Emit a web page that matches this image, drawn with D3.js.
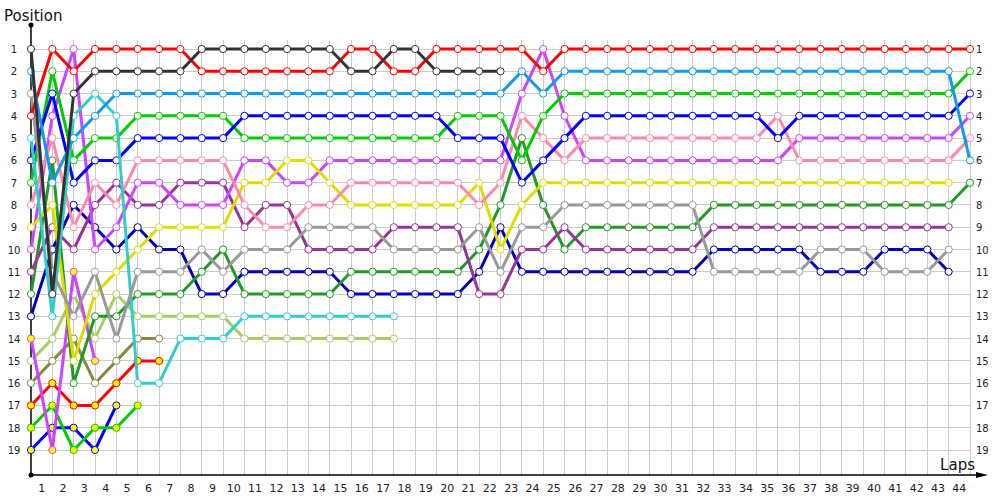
<!DOCTYPE html>
<html>
<head>
<meta charset="utf-8">
<script src="https://cdn.jsdelivr.net/npm/d3@7"></script>
<style>
  body { margin: 0; background: #fff; }
  svg { display: block; font-family: "DejaVu Sans", Verdana, sans-serif; }
</style>
</head>
<body>
<svg id="chart" width="1000" height="500"></svg>
<script>
// lap 0 is the grid, then one value per completed lap
const laps = d3.range(0, 45);
const lapLabels = d3.range(1, 45);
const positionLabels = d3.range(1, 20);

const red = [4,1,2,1,1,1,1,1,2,2, 2,2,2,2,2,1,1,2,2,1, 1,1,1,1,2,1,1,1,1,1, 1,1,1,1,1,1,1,1,1,1, 1,1,1,1,1];
const black = [1,12,3,2,2,2,2,2,1,1, 1,1,1,1,1,2,2,1,1,2, 2,2,2];
const lightBlue = [2,7,5,4,3,3,3,3,3,3, 3,3,3,3,3,3,3,3,3,3, 3,3,3,2,3,2,2,2,2,2, 2,2,2,2,2,2,2,2,2,2, 2,2,2,2,6];
const gray = [3,11,13,11,14,11,11,11,10,11, 10,10,10,9,9,9,9,10,10,10, 10,9,11,9,9,8,8,8,8,8, 8,8,11,11,11,11,11,10,10,10, 11,11,11,10];
const cyan = [5,13,4,3,4,16,16,14,14,14, 13,13,13,13,13,13,13,13];
const blue = [6,3,7,6,6,5,5,5,5,5, 4,4,4,4,4,4,4,4,4,4, 5,5,5,7,6,5,4,4,4,4, 4,4,4,4,4,5,4,4,4,4, 4,4,4,4,3];
const green = [7,2,6,5,5,4,4,4,4,4, 5,5,5,5,5,5,5,5,5,5, 4,4,4,6,4,3,3,3,3,3, 3,3,3,3,3,3,3,3,3,3, 3,3,3,3,2];
const pink = [8,5,9,7,8,6,6,6,6,6, 8,9,9,8,8,7,7,7,7,7, 7,8,7,4,5,6,5,5,5,5, 5,5,5,5,5,4,6,6,6,6, 6,6,6,6,5];
const yellow = [9,8,15,12,11,10,9,9,9,9, 7,7,6,6,7,8,8,8,8,8, 8,7,10,8,7,7,7,7,7,7, 7,7,7,7,7,7,7,7,7,7, 7,7,7,7];
const magenta = [10,4,1,10,9,7,7,8,8,8, 6,6,7,7,6,6,6,6,6,6, 6,6,6,3,1,4,6,6,6,6, 6,6,6,6,6,6,5,5,5,5, 5,5,5,5,4];
const purple = [11,9,10,8,7,8,8,7,7,7, 9,8,8,10,10,10,10,9,9,9, 9,12,12,10,10,9,10,10,10,10, 10,10,9,9,9,9,9,9,9,9, 9,9,9,9];
const darkGreen = [12,6,16,13,13,12,12,12,11,10, 12,12,12,12,12,11,11,11,11,11, 11,10,8,5,8,10,9,9,9,9, 9,9,8,8,8,8,8,8,8,8, 8,8,8,8,7];
const navy = [13,10,8,9,10,9,10,10,12,12, 11,11,11,11,11,12,12,12,12,12, 12,11,9,11,11,11,11,11,11,11, 11,11,10,10,10,10,10,11,11,11, 10,10,10,11];
const magentaB = [14,19,11,15];
const yellowGreen = [15,14,12,14,12,13,13,13,13,13, 14,14,14,14,14,14,14,14];
const olive = [16,15,14,16,15,14,14];
const redB = [17,16,17,17,16,15,15];
const greenB = [18,17,19,18,18,17];
const blueB = [19,18,18,19,17];

// drawn from the back of the grid to the front
const series = [
  { pos: blueB, color: '#0000ff', fill: '#ffff00' },
  { pos: greenB, color: '#00cc00', fill: '#ffff00' },
  { pos: redB, color: '#ff0000', fill: '#ffff00' },
  { pos: olive, color: '#888844', fill: '#fff' },
  { pos: yellowGreen, color: '#aacc66', fill: '#fff' },
  { pos: magentaB, color: '#cc44ff', fill: '#ffff00' },
  { pos: navy, color: '#0000bb', fill: '#fff' },
  { pos: darkGreen, color: '#229922', fill: '#fff' },
  { pos: purple, color: '#993399', fill: '#fff' },
  { pos: magenta, color: '#cc44ff', fill: '#fff' },
  { pos: yellow, color: '#dddd00', fill: '#fff' },
  { pos: pink, color: '#ff88aa', fill: '#fff' },
  { pos: green, color: '#00cc00', fill: '#fff' },
  { pos: blue, color: '#0000ff', fill: '#fff' },
  { pos: cyan, color: '#33cccc', fill: '#fff' },
  { pos: gray, color: '#999999', fill: '#fff' },
  { pos: red, color: '#ff0000', fill: '#fff' },
  { pos: lightBlue, color: '#1199ee', fill: '#fff' },
  { pos: black, color: '#333333', fill: '#fff' },
];

const svg = d3.select('#chart');

const x = d3.scaleLinear().domain([0, 44]).range([31, 970]);
const y = d3.scaleLinear().domain([1, 19]).range([49, 450]);
const axisY = 475;

// grid
svg.append('g').selectAll('line')
  .data(lapLabels)
  .enter()
  .append('line')
  .attr('x1', d => x(d)).attr('x2', d => x(d))
  .attr('y1', 40).attr('y2', axisY)
  .attr('stroke', '#cccccc')
  .attr('stroke-width', 1)
  .attr('shape-rendering', 'crispEdges');

svg.append('g').selectAll('line')
  .data(positionLabels)
  .enter()
  .append('line')
  .attr('x1', x(0)).attr('x2', x(44))
  .attr('y1', d => y(d)).attr('y2', d => y(d))
  .attr('stroke', '#cccccc')
  .attr('stroke-width', 1)
  .attr('shape-rendering', 'crispEdges');

// position labels on both sides
svg.append('g').selectAll('text')
  .data(positionLabels)
  .enter()
  .append('text')
  .attr('x', 14)
  .attr('y', d => y(d) + 4)
  .attr('text-anchor', 'middle')
  .style('font-size', '10px')
  .style('fill', '#222')
  .text(d => d);

svg.append('g').selectAll('text')
  .data(positionLabels)
  .enter()
  .append('text')
  .attr('x', 976)
  .attr('y', d => y(d) + 4)
  .style('font-size', '10px')
  .style('fill', '#222')
  .text(d => d);

// lap labels sit between the grid lines
svg.append('g').selectAll('text')
  .data(lapLabels)
  .enter()
  .append('text')
  .attr('x', d => (x(d - 1) + x(d)) / 2)
  .attr('y', 492)
  .attr('text-anchor', 'middle')
  .style('font-size', '11px')
  .style('fill', '#222')
  .text(d => d);

// axes
svg.append('line')
  .attr('x1', x(0)).attr('x2', x(0))
  .attr('y1', 25).attr('y2', axisY)
  .attr('stroke', '#000').attr('stroke-width', 1.5);
svg.append('line')
  .attr('x1', x(0)).attr('x2', 980)
  .attr('y1', axisY).attr('y2', axisY)
  .attr('stroke', '#000').attr('stroke-width', 1.5);
svg.append('path')
  .attr('d', `M976,${axisY - 3} L988,${axisY} L976,${axisY + 3} Z`)
  .attr('fill', '#000');
svg.append('circle').attr('cx', x(0)).attr('cy', 25).attr('r', 2.5).attr('fill', '#000');
svg.append('circle').attr('cx', x(0)).attr('cy', axisY).attr('r', 2.5).attr('fill', '#000');

svg.append('text')
  .attr('x', 4).attr('y', 21)
  .style('font-size', '15px')
  .style('fill', '#111')
  .text('Position');

svg.append('text')
  .attr('x', 975).attr('y', 470)
  .attr('text-anchor', 'end')
  .style('font-size', '15px')
  .style('fill', '#111')
  .text('Laps');

// one line + markers per driver
const line = d3.line()
  .x((d, i) => x(laps[i]))
  .y(d => y(d));

const drivers = svg.append('g').selectAll('g')
  .data(series)
  .enter()
  .append('g');

drivers.append('path')
  .attr('d', s => line(s.pos))
  .attr('fill', 'none')
  .attr('stroke', s => s.color)
  .attr('stroke-width', 3)
  .attr('stroke-linejoin', 'round');

drivers.selectAll('circle')
  .data(s => s.pos.map((p, i) => ({ lap: laps[i], p: p, s: s })))
  .enter()
  .append('circle')
  .attr('cx', d => x(d.lap))
  .attr('cy', d => y(d.p))
  .attr('r', 3.6)
  .attr('fill', d => d.s.fill)
  .attr('stroke', d => d.s.color)
  .attr('stroke-width', 1);
</script>
</body>
</html>
